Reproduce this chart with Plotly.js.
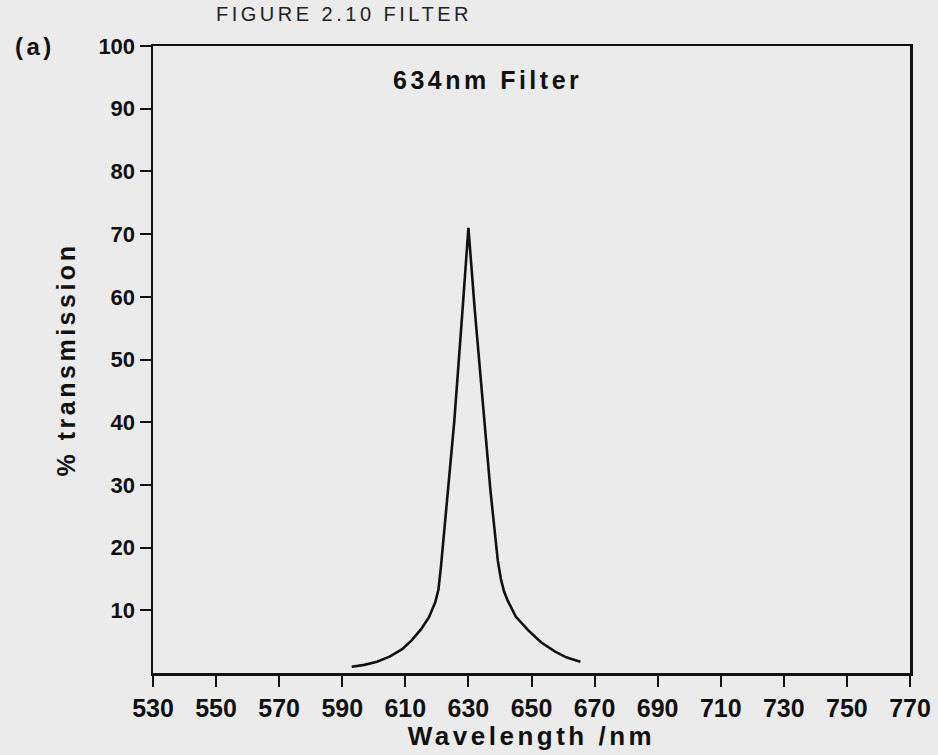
<!DOCTYPE html>
<html>
<head>
<meta charset="utf-8">
<script src="https://cdn.plot.ly/plotly-3.0.1.min.js"></script>
<style>
  html, body { margin: 0; padding: 0; background: #ebebeb; }
  #chart { width: 938px; height: 755px; }
  .xtitle { letter-spacing: 3.5px; }
  .ytitle { letter-spacing: 3.5px; }
  .annotation-text { letter-spacing: 3.5px; }
</style>
</head>
<body>
<div id="chart"></div>
<script>
// Wavelength (nm) and % transmission
const wavelength = [593, 597, 601, 605, 609, 612, 615, 617.5, 619.5, 620.5, 621.3, 623, 625.5, 628, 630, 632, 634.5, 637, 639.3, 640.3, 641.3, 642.5, 645, 649, 653, 657.5, 661, 665.5];
const transmission = [1.0, 1.3, 1.8, 2.6, 3.8, 5.2, 7.0, 8.9, 11.3, 13.3, 17, 26.5, 40, 57, 71, 58, 43, 29, 18, 15, 13, 11.5, 9, 6.8, 4.9, 3.4, 2.5, 1.8];

const xTicks = [530, 550, 570, 590, 610, 630, 650, 670, 690, 710, 730, 750, 770];
const yTicks = [10, 20, 30, 40, 50, 60, 70, 80, 90, 100];

const chartTitle = "634nm Filter";
const xLabel = "Wavelength /nm";
const yLabel = "% transmission";
const panelLabel = "(a)";
const headerText = "FIGURE 2.10 FILTER";

const trace = {
  x: wavelength,
  y: transmission,
  type: 'scatter',
  mode: 'lines',
  line: { color: '#111', width: 2.6 },
  hoverinfo: 'skip'
};

const layout = {
  width: 938, height: 755,
  paper_bgcolor: '#ebebeb',
  plot_bgcolor: '#ebebeb',
  margin: { l: 153, r: 28, t: 46, b: 82 },
  showlegend: false,
  xaxis: {
    range: [530, 770],
    tickvals: xTicks,
    ticktext: xTicks.map(String),
    ticks: 'outside', ticklen: 11, tickwidth: 2, tickcolor: '#111',
    showline: true, linecolor: '#111', linewidth: 2.5, mirror: true,
    showgrid: false, zeroline: false,
    tickfont: { family: 'Liberation Sans Narrow, Arial Narrow, Liberation Sans, Arial', size: 25, color: '#111', weight: 'bold' },
    title: { text: xLabel, standoff: 6, font: { family: 'Liberation Sans, Arial', size: 26, color: '#111', weight: 'bold' } },
    automargin: false
  },
  yaxis: {
    range: [0, 100],
    tickvals: yTicks,
    ticktext: yTicks.map(String),
    ticks: 'outside', ticklen: 11, tickwidth: 2, tickcolor: '#111',
    showline: true, linecolor: '#111', linewidth: 2.5, mirror: true,
    showgrid: false, zeroline: false,
    tickfont: { family: 'Liberation Sans, Arial', size: 22, color: '#111', weight: 'bold' },
    title: { text: yLabel, standoff: 16, font: { family: 'Liberation Sans, Arial', size: 25, color: '#111', weight: 'bold' } },
    automargin: false
  },
  annotations: [
    {
      text: chartTitle, x: 636, y: 94.5, xref: 'x', yref: 'y',
      showarrow: false, xanchor: 'center', yanchor: 'middle',
      font: { family: 'Liberation Sans, Arial', size: 25, color: '#111', weight: 'bold' }
    },
    {
      text: panelLabel, x: -0.185, y: 1.0, xref: 'paper', yref: 'paper',
      showarrow: false, xanchor: 'left', yanchor: 'middle',
      font: { family: 'Liberation Sans, Arial', size: 24, color: '#111', weight: 'bold' }
    },
    {
      text: headerText, x: 0.08, y: 1.071, xref: 'paper', yref: 'paper',
      showarrow: false, xanchor: 'left', yanchor: 'top',
      font: { family: 'Liberation Sans, Arial', size: 20, color: '#222' }
    }
  ]
};

Plotly.newPlot('chart', [trace], layout, { displayModeBar: false, staticPlot: true });
</script>
</body>
</html>
